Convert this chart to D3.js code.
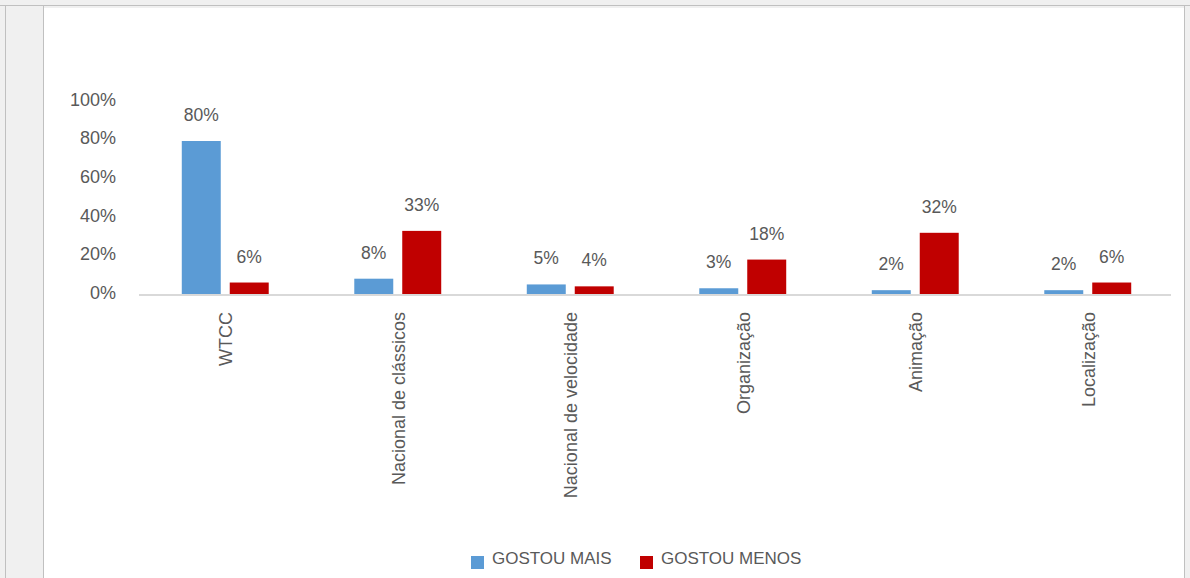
<!DOCTYPE html>
<html>
<head>
<meta charset="utf-8">
<script src="https://cdn.jsdelivr.net/npm/d3@7"></script>
<style>
  html, body { margin: 0; padding: 0; background: #f0f0f0; }
  svg { display: block; font-family: "Liberation Sans", Arial, sans-serif; }
</style>
</head>
<body>
<div class="chart"></div>
<script>
(function () {
  'use strict';

  var categories = ['WTCC', 'Nacional de clássicos', 'Nacional de velocidade', 'Organização', 'Animação', 'Localização'];
  var series = ['GOSTOU MAIS', 'GOSTOU MENOS'];
  var gostouMais = [0.80, 0.08, 0.05, 0.03, 0.02, 0.02];
  var gostouMenos = [0.06, 0.33, 0.04, 0.18, 0.32, 0.06];
  var yTicks = [0, 0.2, 0.4, 0.6, 0.8, 1];
  var colors = ['#5b9bd5', '#c00000'];

  var width = 1190;
  var height = 578;
  var textColor = '#595959';

  var data = categories.map(function (c, i) {
    return { name: c, values: [gostouMais[i], gostouMenos[i]] };
  });

  var svg = d3.select('.chart')
      .append('svg')
      .attr('width', width)
      .attr('height', height);

  // window frame
  svg.append('rect').attr('x', 0).attr('y', 0).attr('width', width).attr('height', height).attr('fill', '#f0f0f0');
  svg.append('rect').attr('x', 44).attr('y', 8).attr('width', 1140).attr('height', height - 8).attr('fill', '#ffffff');
  svg.append('line').attr('x1', 0).attr('x2', width).attr('y1', 5.5).attr('y2', 5.5).attr('stroke', '#c0c0c0');
  svg.append('line').attr('x1', 5.5).attr('x2', 5.5).attr('y1', 5.5).attr('y2', height).attr('stroke', '#c0c0c0');
  svg.append('line').attr('x1', 43.5).attr('x2', 43.5).attr('y1', 5.5).attr('y2', height).attr('stroke', '#c0c0c0');
  svg.append('line').attr('x1', 1184.5).attr('x2', 1184.5).attr('y1', 5.5).attr('y2', height).attr('stroke', '#c0c0c0');

  var x0 = d3.scaleBand()
      .domain(categories)
      .range([139, 1174])
      .paddingInner(0.496)
      .paddingOuter(0.248);

  var x1 = d3.scaleBand()
      .domain([0, 1])
      .range([0, x0.bandwidth()])
      .paddingInner(0.1875);

  var y = d3.scaleLinear().domain([0, 1]).range([294, 102.75]);

  // y axis labels
  var yAxis = svg.append('g')
      .attr('transform', 'translate(116,0)')
      .call(d3.axisLeft(y).tickValues(yTicks).tickSize(0).tickPadding(0)
        .tickFormat(function (d) { return Math.round(d * 100) + '%'; }));
  yAxis.select('.domain').remove();
  yAxis.selectAll('text')
      .attr('fill', textColor)
      .style('font-size', '18px')
      .style('font-family', '"Liberation Sans", Arial, sans-serif')
      .attr('dy', function (d) { return (d === 0 ? 0.25 : (d >= 0.8 ? 0.15 : 0.2)) + 'em'; });

  // bars
  var groups = svg.selectAll('.group')
      .data(data)
      .enter()
      .append('g')
      .attr('class', 'group')
      .attr('transform', function (d) { return 'translate(' + x0(d.name) + ',0)'; });

  groups.selectAll('rect')
      .data(function (d) { return d.values; })
      .enter()
      .append('rect')
      .attr('x', function (d, i) { return x1(i); })
      .attr('width', x1.bandwidth())
      .attr('y', function (d) { return y(d); })
      .attr('height', function (d) { return y(0) - y(d); })
      .attr('fill', function (d, i) { return colors[i]; });

  groups.selectAll('.label')
      .data(function (d) { return d.values; })
      .enter()
      .append('text')
      .attr('class', 'label')
      .attr('x', function (d, i) { return x1(i) + x1.bandwidth() / 2; })
      .attr('y', function (d) { return y(d) - 20; })
      .attr('text-anchor', 'middle')
      .attr('fill', textColor)
      .style('font-size', '17.5px')
      .text(function (d) { return Math.round(d * 100) + '%'; });

  // baseline
  svg.append('line')
      .attr('x1', x0.range()[0]).attr('x2', x0.range()[1] - 3)
      .attr('y1', y(0) + 1).attr('y2', y(0) + 1)
      .attr('stroke', '#d9d9d9')
      .attr('stroke-width', 2);

  // category labels
  svg.selectAll('.cat')
      .data(categories)
      .enter()
      .append('text')
      .attr('class', 'cat')
      .attr('transform', function (d) {
        return 'translate(' + (x0(d) + x0.bandwidth() / 2) + ',312) rotate(-90)';
      })
      .attr('dy', '0.38em')
      .attr('text-anchor', 'end')
      .attr('fill', textColor)
      .style('font-size', '18px')
      .text(function (d) { return d; });

  // legend
  var legendX = [471, 640];
  var legend = svg.selectAll('.legend')
      .data(series)
      .enter()
      .append('g')
      .attr('class', 'legend')
      .attr('transform', function (d, i) { return 'translate(' + legendX[i] + ',556)'; });

  legend.append('rect')
      .attr('width', 13)
      .attr('height', 13)
      .attr('fill', function (d, i) { return colors[i]; });

  legend.append('text')
      .attr('x', 21)
      .attr('y', 8)
      .attr('fill', textColor)
      .style('font-size', '17px')
      .text(function (d) { return d; });
}());
</script>
</body>
</html>
